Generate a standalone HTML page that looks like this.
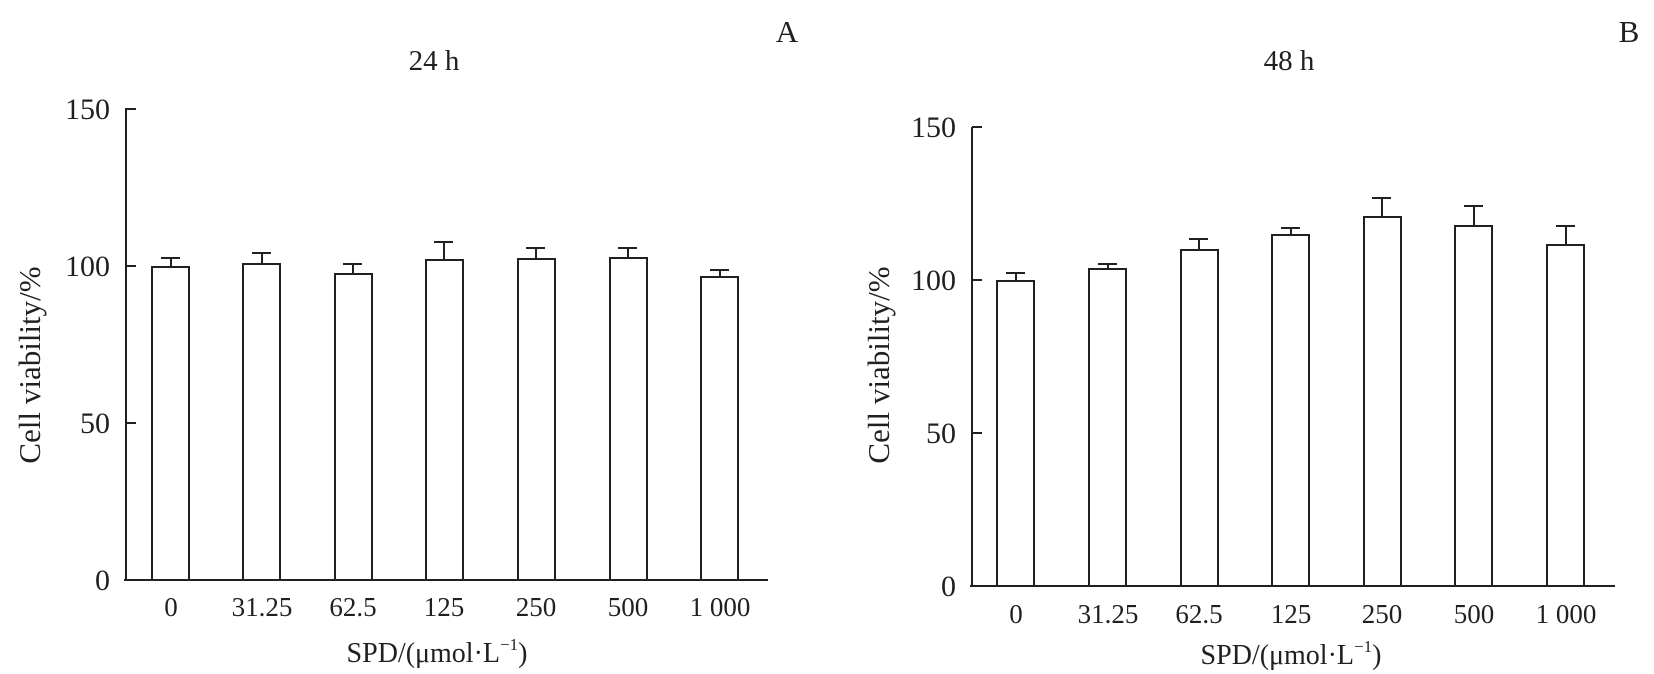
<!DOCTYPE html>
<html><head><meta charset="utf-8"><style>
html,body{margin:0;padding:0;background:#fff;}
svg{display:block;}
text{font-family:"Liberation Serif",serif;fill:#231f20;}
</style></head><body>
<svg width="1654" height="674" viewBox="0 0 1654 674" xmlns="http://www.w3.org/2000/svg">
<g stroke="#231f20" stroke-width="2" fill="#fff">
<line x1="126" y1="108" x2="126" y2="581"/>
<line x1="124" y1="580" x2="768" y2="580"/>
<line x1="126" y1="109" x2="136" y2="109"/>
<line x1="126" y1="266" x2="136" y2="266"/>
<line x1="126" y1="423" x2="136" y2="423"/>
<rect x="152" y="267" width="37" height="313"/><line x1="171" y1="267" x2="171" y2="258"/><line x1="161" y1="258" x2="180" y2="258"/>
<rect x="243" y="264" width="37" height="316"/><line x1="262" y1="264" x2="262" y2="253"/><line x1="252" y1="253" x2="271" y2="253"/>
<rect x="335" y="274" width="37" height="306"/><line x1="353" y1="274" x2="353" y2="264"/><line x1="343" y1="264" x2="362" y2="264"/>
<rect x="426" y="260" width="37" height="320"/><line x1="444" y1="260" x2="444" y2="242"/><line x1="434" y1="242" x2="453" y2="242"/>
<rect x="518" y="259" width="37" height="321"/><line x1="536" y1="259" x2="536" y2="248"/><line x1="526" y1="248" x2="545" y2="248"/>
<rect x="610" y="258" width="37" height="322"/><line x1="628" y1="258" x2="628" y2="248"/><line x1="618" y1="248" x2="637" y2="248"/>
<rect x="701" y="277" width="37" height="303"/><line x1="720" y1="277" x2="720" y2="270"/><line x1="710" y1="270" x2="729" y2="270"/>
<line x1="972" y1="127" x2="972" y2="587"/>
<line x1="970" y1="586" x2="1615" y2="586"/>
<line x1="972" y1="127" x2="982" y2="127"/>
<line x1="972" y1="280" x2="982" y2="280"/>
<line x1="972" y1="433" x2="982" y2="433"/>
<rect x="997" y="281" width="37" height="305"/><line x1="1016" y1="281" x2="1016" y2="273"/><line x1="1006" y1="273" x2="1025" y2="273"/>
<rect x="1089" y="269" width="37" height="317"/><line x1="1108" y1="269" x2="1108" y2="264"/><line x1="1098" y1="264" x2="1117" y2="264"/>
<rect x="1181" y="250" width="37" height="336"/><line x1="1199" y1="250" x2="1199" y2="239"/><line x1="1189" y1="239" x2="1208" y2="239"/>
<rect x="1272" y="235" width="37" height="351"/><line x1="1291" y1="235" x2="1291" y2="228"/><line x1="1281" y1="228" x2="1300" y2="228"/>
<rect x="1364" y="217" width="37" height="369"/><line x1="1382" y1="217" x2="1382" y2="198"/><line x1="1372" y1="198" x2="1391" y2="198"/>
<rect x="1455" y="226" width="37" height="360"/><line x1="1474" y1="226" x2="1474" y2="206"/><line x1="1464" y1="206" x2="1483" y2="206"/>
<rect x="1547" y="245" width="37" height="341"/><line x1="1566" y1="245" x2="1566" y2="226"/><line x1="1556" y1="226" x2="1575" y2="226"/>
</g>
<g font-size="27">
<text x="787" y="42" font-size="31" text-anchor="middle">A</text>
<text x="1629" y="42" font-size="31" text-anchor="middle">B</text>
<text x="434" y="70" font-size="29" text-anchor="middle">24 h</text>
<text x="1289" y="70" font-size="29" text-anchor="middle">48 h</text>
<g text-anchor="end" font-size="30">
<text x="110" y="119">150</text><text x="110" y="276">100</text><text x="110" y="433">50</text><text x="110" y="590">0</text>
<text x="956" y="137">150</text><text x="956" y="290">100</text><text x="956" y="443">50</text><text x="956" y="596">0</text>
</g>
<g text-anchor="middle">
<text x="171" y="616">0</text><text x="262" y="616">31.25</text><text x="353" y="616">62.5</text><text x="444" y="616">125</text><text x="536" y="616">250</text><text x="628" y="616">500</text><text x="720" y="616">1 000</text>
<text x="1016" y="623">0</text><text x="1108" y="623">31.25</text><text x="1199" y="623">62.5</text><text x="1291" y="623">125</text><text x="1382" y="623">250</text><text x="1474" y="623">500</text><text x="1566" y="623">1 000</text>
<text x="437" y="662" font-size="28">SPD/(μmol·L<tspan font-size="17" dy="-12">−1</tspan><tspan dy="12">)</tspan></text>
<text x="1291" y="664" font-size="28">SPD/(μmol·L<tspan font-size="17" dy="-12">−1</tspan><tspan dy="12">)</tspan></text>
<text font-size="31" transform="translate(40,365) rotate(-90)">Cell viability/%</text>
<text font-size="31" transform="translate(889,365) rotate(-90)">Cell viability/%</text>
</g>
</g>
</svg>
</body></html>
